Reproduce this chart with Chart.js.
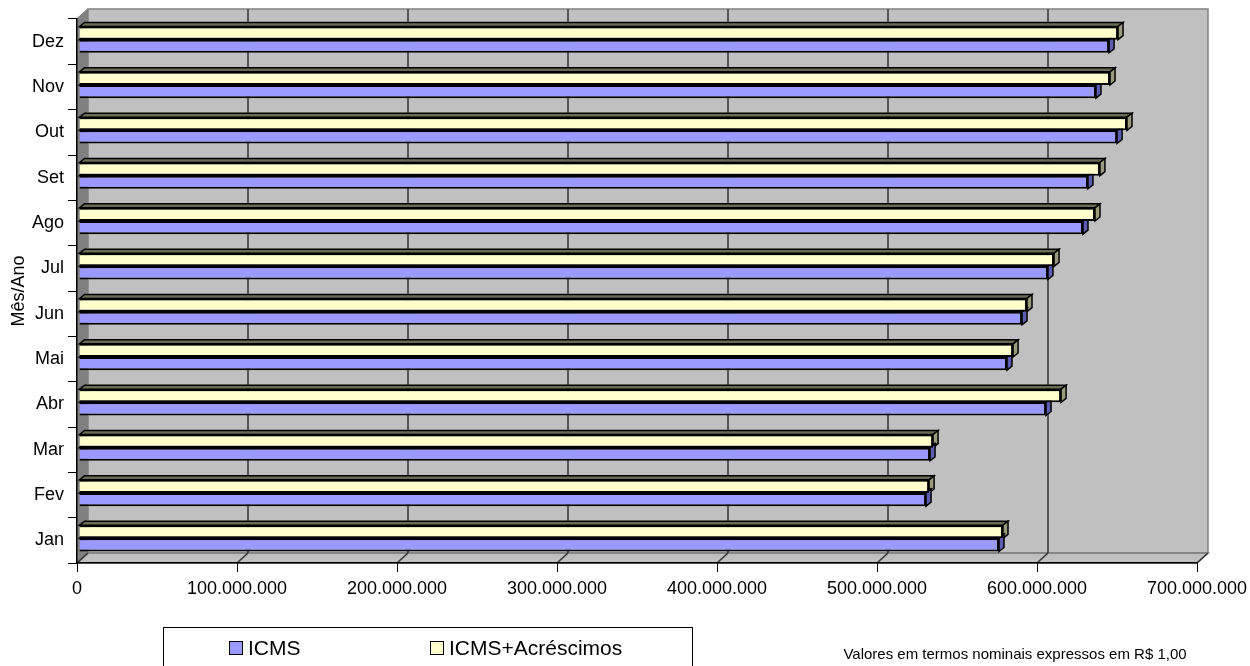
<!DOCTYPE html>
<html>
<head>
<meta charset="utf-8">
<script src="https://cdn.jsdelivr.net/npm/chart.js@4"></script>
<style>
  html, body { margin: 0; padding: 0; background: #fff; }
  #wrap { width: 1250px; height: 666px; }
</style>
</head>
<body>
<div id="wrap"><canvas id="grafico" width="1250" height="666"></canvas></div>
<script>
// dados (valores em R$)
const meses = ["Jan", "Fev", "Mar", "Abr", "Mai", "Jun", "Jul", "Ago", "Set", "Out", "Nov", "Dez"];
const icms = [575000000, 529400000, 531900000, 604400000, 580000000, 589400000, 605600000, 627500000, 630600000, 648800000, 635600000, 643800000];
const icmsAcrescimos = [577500000, 531300000, 533800000, 613800000, 583800000, 592500000, 609400000, 635000000, 638100000, 655000000, 644400000, 649400000];
const xTicks = [0, 100000000, 200000000, 300000000, 400000000, 500000000, 600000000, 700000000];

const FONTE = "'Liberation Sans', Arial, sans-serif";
const PROF_X = 11, PROF_Y = -10;   // profundidade das paredes
const BAR_DX = 5, BAR_DY = -4;     // profundidade das barras

function fmt(v) {
    return Math.round(v).toString().replace(/\B(?=(\d{3})+(?!\d))/g, '.');
}

// =============== PAREDES 3D ===============
const paredes = {
    id: 'paredes',
    beforeDraw(chart) {
        const { ctx, chartArea: a, scales } = chart;
        const x = scales.x;
        ctx.save();
        // parede do fundo
        ctx.fillStyle = '#C0C0C0';
        ctx.fillRect(a.left + PROF_X, a.top + PROF_Y, a.right - a.left, a.bottom - a.top);
        // parede esquerda
        ctx.fillStyle = '#808080';
        ctx.beginPath();
        ctx.moveTo(a.left, a.top);
        ctx.lineTo(a.left + PROF_X, a.top + PROF_Y);
        ctx.lineTo(a.left + PROF_X, a.bottom + PROF_Y);
        ctx.lineTo(a.left, a.bottom);
        ctx.closePath();
        ctx.fill();
        // piso
        ctx.fillStyle = '#C0C0C0';
        ctx.strokeStyle = '#808080';
        ctx.lineWidth = 1.5;
        ctx.beginPath();
        ctx.moveTo(a.left, a.bottom);
        ctx.lineTo(a.left + PROF_X, a.bottom + PROF_Y);
        ctx.lineTo(a.right + PROF_X, a.bottom + PROF_Y);
        ctx.lineTo(a.right, a.bottom);
        ctx.closePath();
        ctx.fill();
        ctx.stroke();
        // contorno do fundo
        ctx.strokeRect(a.left + PROF_X, a.top + PROF_Y, a.right - a.left, a.bottom - a.top);
        ctx.beginPath();
        ctx.moveTo(a.left, a.top);
        ctx.lineTo(a.left + PROF_X, a.top + PROF_Y);
        ctx.stroke();
        // grades verticais e diagonais do piso
        x.ticks.forEach(t => {
            const px = x.getPixelForValue(t.value);
            ctx.strokeStyle = '#333333';
            ctx.lineWidth = 1.5;
            if (t.value > 0 && t.value < x.max) {
                ctx.beginPath();
                ctx.moveTo(px + PROF_X, a.top + PROF_Y);
                ctx.lineTo(px + PROF_X, a.bottom + PROF_Y);
                ctx.stroke();
            }
            ctx.beginPath();
            ctx.moveTo(px, a.bottom);
            ctx.lineTo(px + PROF_X, a.bottom + PROF_Y);
            ctx.stroke();
        });
        ctx.restore();
    }
};

// =============== BARRAS 3D ===============
const barras3d = {
    id: 'barras3d',
    beforeDatasetsDraw(chart) {
        const ctx = chart.ctx;
        ctx.save();
        ctx.translate(2, -2);
        chart.data.datasets.forEach((ds, i) => {
            const meta = chart.getDatasetMeta(i);
            meta.data.forEach(bar => {
                const p = bar.getProps(['x', 'y', 'base', 'height'], true);
                const top = p.y - p.height / 2;
                const bot = p.y + p.height / 2;
                ctx.lineWidth = 1.5;
                ctx.strokeStyle = '#000';
                // face de cima
                ctx.fillStyle = ds.corTopo;
                ctx.beginPath();
                ctx.moveTo(p.base, top);
                ctx.lineTo(p.base + BAR_DX, top + BAR_DY);
                ctx.lineTo(p.x + BAR_DX, top + BAR_DY);
                ctx.lineTo(p.x, top);
                ctx.closePath();
                ctx.fill();
                ctx.stroke();
                // face lateral
                ctx.fillStyle = ds.corLado;
                ctx.beginPath();
                ctx.moveTo(p.x, top);
                ctx.lineTo(p.x + BAR_DX, top + BAR_DY);
                ctx.lineTo(p.x + BAR_DX, bot + BAR_DY);
                ctx.lineTo(p.x, bot);
                ctx.closePath();
                ctx.fill();
                ctx.stroke();
            });
        });
    },
    afterDatasetsDraw(chart) {
        chart.ctx.restore();
    }
};

// =============== LEGENDA E NOTA ===============
const legenda = {
    id: 'legenda',
    afterDraw(chart) {
        const ctx = chart.ctx;
        ctx.save();
        ctx.strokeStyle = '#000';
        ctx.lineWidth = 1;
        ctx.strokeRect(163.5, 627.5, 529, 50);
        const itens = chart.data.datasets.slice().reverse();
        const xs = [229, 430];
        ctx.font = '21px ' + FONTE;
        ctx.textBaseline = 'middle';
        itens.forEach((ds, i) => {
            ctx.fillStyle = ds.backgroundColor;
            ctx.fillRect(xs[i], 641, 14, 14);
            ctx.strokeRect(xs[i] + 0.5, 641.5, 13, 13);
            ctx.fillStyle = '#000';
            ctx.fillText(ds.label, xs[i] + 19, 649);
        });
        ctx.font = '15px ' + FONTE;
        ctx.textAlign = 'center';
        ctx.fillText('Valores em termos nominais expressos em R$ 1,00', 1015, 655);
        ctx.restore();
    }
};

const ctx = document.getElementById('grafico').getContext('2d');
new Chart(ctx, {
    type: 'bar',
    data: {
        labels: meses,
        datasets: [
            {
                label: 'ICMS+Acréscimos',
                data: icmsAcrescimos,
                backgroundColor: '#FFFFCC',
                borderColor: '#000',
                borderWidth: 2,
                corTopo: '#6B6B55',
                corLado: '#9A9A7E'
            },
            {
                label: 'ICMS',
                data: icms,
                backgroundColor: '#9999FF',
                borderColor: '#000',
                borderWidth: 2,
                corTopo: '#4C4C80',
                corLado: '#5C5CB0'
            }
        ]
    },
    options: {
        indexAxis: 'y',
        responsive: false,
        animation: false,
        devicePixelRatio: 1,
        categoryPercentage: 0.58,
        barPercentage: 1,
        layout: { padding: { left: 0, right: 53, top: 19, bottom: 63 } },
        plugins: {
            legend: { display: false },
            tooltip: { enabled: false }
        },
        scales: {
            x: {
                min: 0,
                max: 700000000,
                afterBuildTicks(scale) {
                    scale.ticks = xTicks.map(v => ({ value: v }));
                },
                afterFit(scale) {
                    scale.height = 40;
                    scale.paddingLeft = 0;
                    scale.paddingRight = 0;
                },
                grid: { drawOnChartArea: false, tickLength: 9, color: '#000', lineWidth: 1 },
                border: { display: true, color: '#000', width: 1.5 },
                ticks: {
                    color: '#000',
                    font: { family: FONTE, size: 18 },
                    padding: 6,
                    maxRotation: 0,
                    callback: v => fmt(v)
                }
            },
            y: {
                reverse: true,
                afterFit(scale) { scale.width = 77; },
                grid: { drawOnChartArea: false, tickLength: 9, color: '#000', lineWidth: 1, offset: true },
                border: { display: true, color: '#000', width: 1.5 },
                ticks: {
                    color: '#000',
                    font: { family: FONTE, size: 18 },
                    padding: 4
                },
                title: {
                    display: true,
                    text: 'Mês/Ano',
                    color: '#000',
                    font: { family: FONTE, size: 18 },
                    padding: { top: 8, bottom: 0 }
                }
            }
        }
    },
    plugins: [paredes, barras3d, legenda]
});
</script>
</body>
</html>
